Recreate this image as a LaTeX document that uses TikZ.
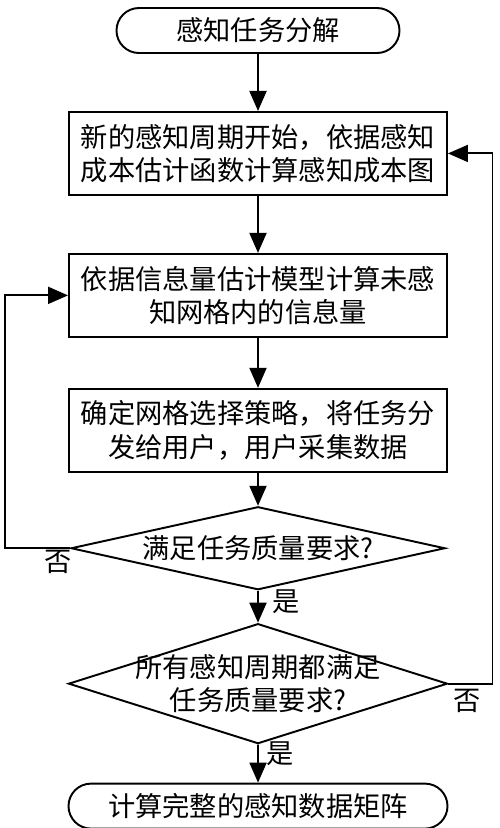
\documentclass[tikz,border=0pt]{standalone}
\usepackage{fontspec}
\newfontfamily\cjk{Noto Sans CJK SC}
\usetikzlibrary{positioning,shapes.geometric,shapes.misc,arrows.meta}

\tikzset{
    every node/.style={font=\cjk\fontsize{15.5}{19}\selectfont},
    term/.style={draw, rounded rectangle, minimum height=0.9cm, inner sep=0pt},
    proc/.style={draw, rectangle, align=center, minimum width=7.56cm, minimum height=1.66cm, inner sep=0pt},
    decide/.style={draw, diamond, inner sep=0pt},
    flow/.style={-{Triangle[length=0.4cm, width=0.34cm]}},
    lab/.style={inner sep=1pt},
}

\begin{document}
\begin{tikzpicture}[line width=1.1pt]
            \useasboundingbox (0,0) rectangle (10,-16.56);
            
            \node[term, minimum width=5.66cm] (start) at (5.16,-0.61) {感知任务分解};
            \node[proc, below=1.14cm of start] (cost) {新的感知周期开始，依据感知\\成本估计函数计算感知成本图};
            \node[proc, below=1.14cm of cost] (info) {依据信息量估计模型计算未感\\知网格内的信息量};
            \node[proc, below=1cm of info] (assign) {确定网格选择策略，将任务分\\发给用户，用户采集数据};
            \node[decide, minimum width=7.48cm, minimum height=1.66cm, below=0.66cm of assign,
                  label={center:满足任务质量要求?}] (qual) {};
            \node[decide, minimum width=7.58cm, minimum height=2.4cm, below=0.64cm of qual,
                  label={[align=center]center:所有感知周期都满足\\任务质量要求?}] (allq) {};
            \node[term, minimum width=7.58cm, below=0.76cm of allq] (done) {计算完整的感知数据矩阵};
            
            
            \draw[flow] (start) -- (cost); %
            \draw[flow] (cost) -- (info); %
            \draw[flow] (info) -- (assign); %
            \draw[flow] (assign) -- (qual); %
            \draw[flow] (qual) -- node[lab, midway, right=0.24cm, yshift=0.1cm] {是} (allq); %
            \draw[flow] (allq) -- node[lab, pos=0.37, right=0.12cm, yshift=0.1cm] {是} (done); %
            \draw[flow] (qual.west) node[lab, below left, xshift=0.08cm, yshift=0.02cm] {否} -- ++(-1.3,0) |- (info.west); %
            \draw[flow] (allq.east) node[lab, below right, xshift=0.04cm, yshift=-0.06cm] {否} -- ++(0.88,0) |- (cost.east); %
            
            
        \end{tikzpicture}
\end{document}
